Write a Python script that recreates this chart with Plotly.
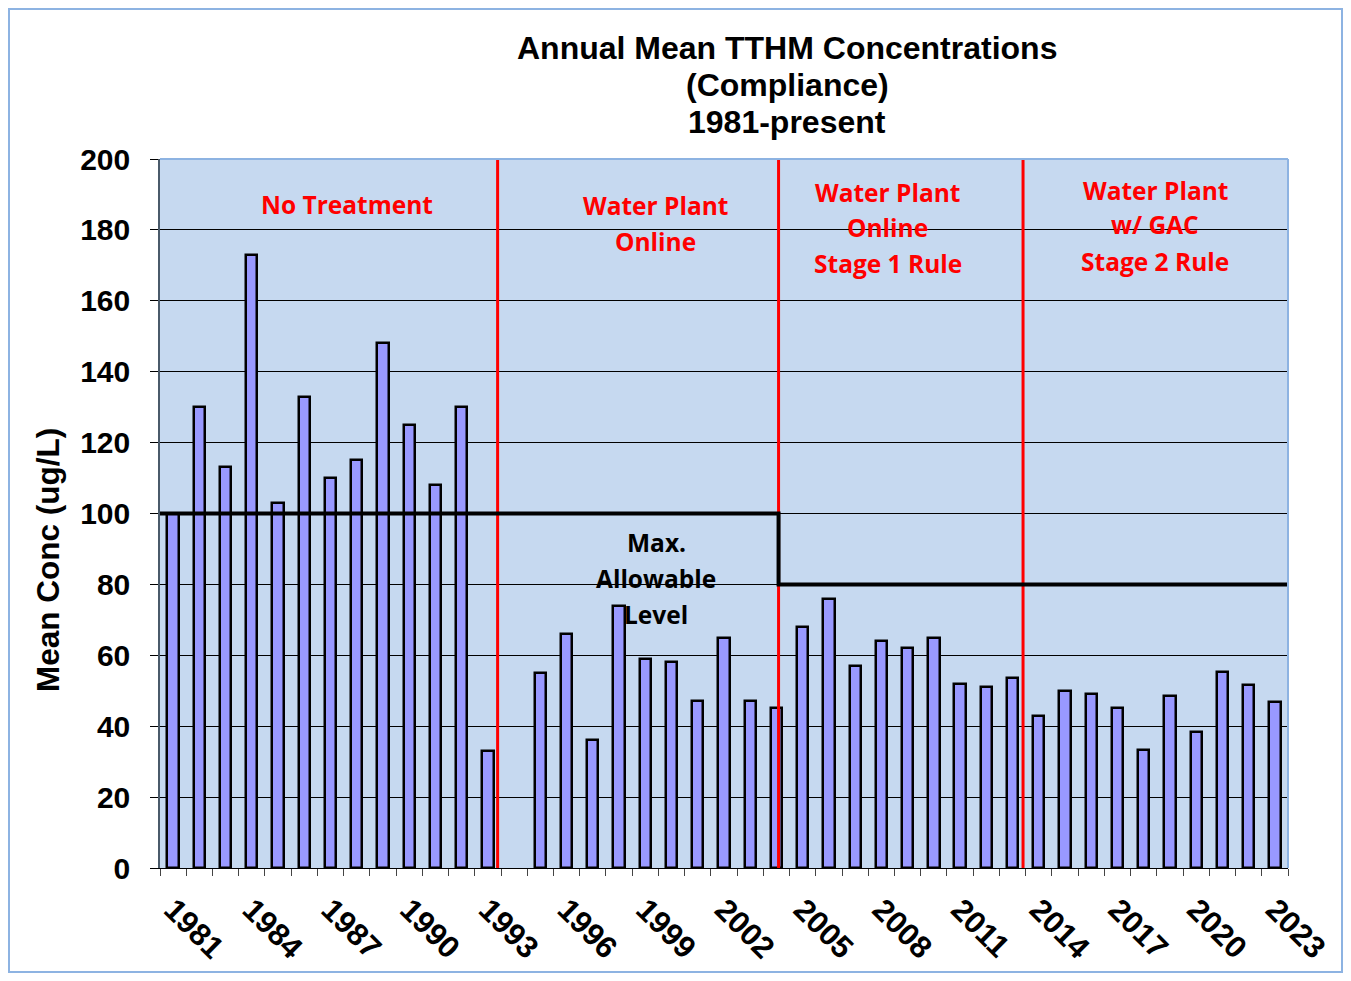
import plotly.graph_objects as go

# ---- data ----
years = list(range(1981, 2024))
tthm = [100, 130, 113, 173, 103, 133, 110, 115, 148, 125, 108, 130, 33,
        None, 55, 66, 36, 74, 59, 58, 47, 65, 47, 45,
        68, 76, 57, 64, 62, 65, 52, 51, 53.5, 43, 50, 49, 45, 33.3, 48.4, 38.4, 55.2, 51.5, 46.8]
tick_years = years[::3]

# regulatory phases (red separators, in fractional years) and MCL steps
phase_breaks = [1993.37, 2004.08, 2013.4]
mcl_x = [1980.5, 2004.08, 2004.08, 2023.5]
mcl_y = [100, 100, 80, 80]

phase_labels = [
    (1987.63, ["No Treatment"]),
    (1999.37, ["Water Plant", "Online"]),
    (2008.25, ["Water Plant", "Online", "Stage 1 Rule"]),
    (2018.43, ["Water Plant", "w/ GAC", "Stage 2 Rule"]),
]
mcl_label = ["Max.", "Allowable", "Level"]

# ---- geometry: page has an 8px body margin, so figure px = screen px - 8 ----
OFF = 8
W, H = 1335, 965
L, R, T, B = 160 - OFF, 1288 - OFF, 159 - OFF, 868 - OFF
pw, ph = R - L, B - T


def py(s):  # screen pixel y -> paper y
    return (B - (s - OFF)) / ph


def px(s):  # screen pixel x -> paper x
    return ((s - OFF) - L) / pw


fig = go.Figure()
fig.add_trace(go.Bar(
    x=years, y=tthm, width=0.43,
    marker=dict(color="#9999FF", line=dict(color="black", width=2.5)),
    showlegend=False,
))

shapes = []
for xb in phase_breaks:
    shapes.append(dict(type="line", xref="x", yref="y", x0=xb, x1=xb, y0=0, y1=200,
                       line=dict(color="#FF0000", width=3), layer="above"))
# MCL step line (drawn over the red separators)
mcl_path = "M " + " L ".join("%s,%s" % (xx, yy) for xx, yy in zip(mcl_x, mcl_y))
shapes.append(dict(type="path", xref="x", yref="y", path=mcl_path,
                   line=dict(color="black", width=4), layer="above"))
# plot border (top & right light blue)
shapes.append(dict(type="line", xref="paper", yref="paper", x0=0, x1=1, y0=1, y1=1,
                   line=dict(color="#8DB3E2", width=2)))
shapes.append(dict(type="line", xref="paper", yref="paper", x0=1, x1=1, y0=0, y1=1,
                   line=dict(color="#8DB3E2", width=2)))
# outer chart border
shapes.append(dict(type="rect", xref="paper", yref="paper",
                   x0=(1 - L) / pw, x1=(W - 1 - L) / pw, y0=(B - (H - 1)) / ph, y1=(B - 1) / ph,
                   line=dict(color="#8DB3E2", width=2), fillcolor="rgba(0,0,0,0)"))
# the reference's "No Treatment" text box clips the bottom of its glyphs
shapes.append(dict(type="rect", xref="paper", yref="paper",
                   x0=px(258), x1=px(438), y0=py(218), y1=py(210.5),
                   line=dict(width=0), fillcolor="#C6D9F0", layer="above"))

annotations = []
row_y = {1: [204], 2: [205, 241], 3: [192, 228, 263]}
alt_y = [190, 225, 261]
for i, (xc, lines) in enumerate(phase_labels):
    ys = row_y[len(lines)] if i < 3 else alt_y
    for txt, yy in zip(lines, ys):
        annotations.append(dict(x=xc, xref="x", y=py(yy), yref="paper", text="<b>%s</b>" % txt,
                                showarrow=False, xanchor="center", yanchor="middle",
                                font=dict(family="Open Sans", size=24.5, color="#FF0000")))
for txt, yy in zip(mcl_label, [542, 578, 614]):
    annotations.append(dict(x=1999.41, xref="x", y=py(yy), yref="paper", text="<b>%s</b>" % txt,
                            showarrow=False, xanchor="center", yanchor="middle",
                            font=dict(family="Open Sans", size=24.5, color="black")))
# title
for txt, yy in zip(["Annual Mean TTHM Concentrations", "(Compliance)", "1981-present"], [48, 85, 122]):
    annotations.append(dict(x=px(787), xref="paper", y=py(yy), yref="paper", text="<b>%s</b>" % txt,
                            showarrow=False, xanchor="center", yanchor="middle",
                            font=dict(family="Liberation Sans, Arial", size=32, color="black")))
# y axis title
annotations.append(dict(x=px(48), xref="paper", y=py(560), yref="paper", text="<b>Mean Conc (ug/L)</b>",
                        showarrow=False, textangle=-90, xanchor="center", yanchor="middle",
                        font=dict(family="Liberation Sans, Arial", size=31.5, color="black")))

fig.update_layout(
    width=W, height=H,
    margin=dict(l=L, r=W - R, t=T, b=H - B, pad=0, autoexpand=False),
    paper_bgcolor="white", plot_bgcolor="#C6D9F0",
    shapes=shapes, annotations=annotations,
    bargap=0,
    xaxis=dict(
        automargin=False,
        range=[1980.5, 2023.5], tickmode="array", tickvals=tick_years,
        ticktext=[str(y) for y in tick_years], tickangle=45, ticks="",
        ticklabelstandoff=10,
        tickfont=dict(family="Liberation Sans, Arial", size=31, color="black", weight="bold"),
        showgrid=False, zeroline=False, showline=True, linecolor="black", linewidth=1,
        minor=dict(tickmode="array", tickvals=[y - 0.5 for y in years] + [years[-1] + 0.5],
                   ticks="outside", ticklen=7, tickcolor="#444444", tickwidth=1, showgrid=False),
    ),
    yaxis=dict(
        automargin=False,
        range=[0, 200], tickmode="linear", tick0=0, dtick=20,
        ticks="outside", ticklen=8, tickcolor="black", tickwidth=1,
        ticklabelstandoff=14,
        tickfont=dict(family="Liberation Sans, Arial", size=30, color="black", weight="bold"),
        showgrid=True, gridcolor="black", gridwidth=1,
        zeroline=False, showline=True, linecolor="#4A5A6A", linewidth=1.5,
    ),
)

fig.write_html("out.html")
